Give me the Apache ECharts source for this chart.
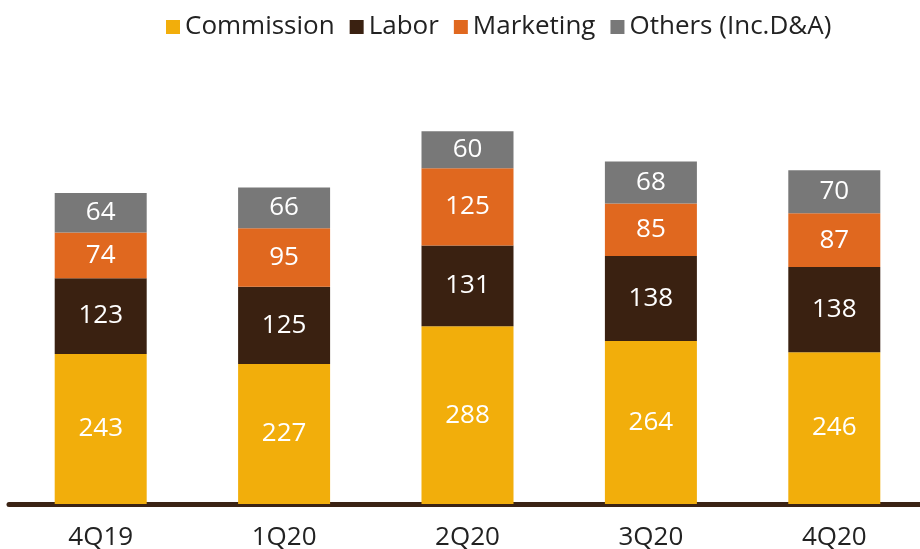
<!DOCTYPE html>
<html>
<head>
<meta charset="utf-8">
<script src="https://cdn.jsdelivr.net/npm/echarts@6/dist/echarts.min.js"></script>
<style>html,body{margin:0;padding:0;background:#fff}#c{width:920px;height:549px}</style>
</head>
<body>
<div id="c"></div>
<script>
var categories = ['4Q19', '1Q20', '2Q20', '3Q20', '4Q20'];
var commission = [243, 227, 288, 264, 246];
var labor = [123, 125, 131, 138, 138];
var marketing = [74, 95, 125, 85, 87];
var others = [64, 66, 60, 68, 70];
var seriesNames = ['Commission', 'Labor', 'Marketing', 'Others (Inc.D&A)'];
var colors = ['#F2AE0B', '#3A2111', '#E0681F', '#787878'];

var FONT = 'Open Sans';
var chart = echarts.init(document.getElementById('c'), null, {renderer: 'canvas'});
function mk(name, data, color) {
  return {
    name: name, type: 'bar', stack: 'total', data: data, barWidth: 92,
    itemStyle: {color: color},
    label: {show: true, position: 'inside', color: '#fff', fontFamily: FONT, fontSize: 26}
  };
}
chart.setOption({
  animation: false,
  color: colors,
  legend: {
    top: 9, left: 161, itemWidth: 14, itemHeight: 14, itemGap: 15,
    icon: 'rect',
    textStyle: {fontFamily: FONT, fontSize: 26, color: '#222'},
    data: seriesNames
  },
  grid: {left: 9, width: 917, top: 72, bottom: 45, outerBoundsMode: 'none', containLabel: false},
  xAxis: {
    type: 'category', data: categories, offset: 3,
    axisLine: {lineStyle: {color: '#3B2314', width: 5}},
    axisTick: {show: false},
    axisLabel: {fontFamily: FONT, fontSize: 26, color: '#222', margin: 18}
  },
  yAxis: {type: 'value', min: 0, max: 700, show: false, splitLine: {show: false}},
  series: [
    mk(seriesNames[0], commission, colors[0]),
    mk(seriesNames[1], labor, colors[1]),
    mk(seriesNames[2], marketing, colors[2]),
    mk(seriesNames[3], others, colors[3])
  ]
});
</script>
</body>
</html>
